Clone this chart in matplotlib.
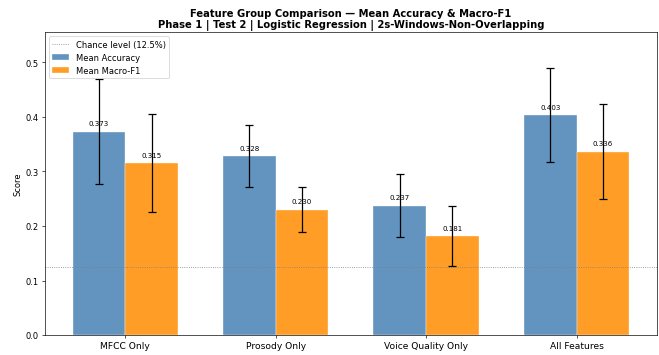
import numpy as np
import matplotlib.pyplot as plt

groups = ['MFCC Only', 'Prosody Only', 'Voice Quality Only', 'All Features']
acc_mean = [0.373, 0.328, 0.237, 0.403]
acc_std = [0.097, 0.057, 0.058, 0.086]
f1_mean = [0.315, 0.230, 0.181, 0.336]
f1_std = [0.090, 0.042, 0.055, 0.087]
chance = 0.125

x = np.arange(len(groups))
width = 0.35

fig, ax = plt.subplots(figsize=(11, 5.94), dpi=659 / 11)

ax.axhline(chance, color='gray', linestyle=':', linewidth=1,
           label='Chance level (12.5%)')
err = {'elinewidth': 1.5, 'capthick': 1.5}
bars_acc = ax.bar(x - width / 2, acc_mean, width, yerr=acc_std, capsize=5,
                  color='steelblue', alpha=0.85, edgecolor='white', linewidth=0.5,
                  label='Mean Accuracy', error_kw=err)
bars_f1 = ax.bar(x + width / 2, f1_mean, width, yerr=f1_std, capsize=5,
                 color='darkorange', alpha=0.85, edgecolor='white', linewidth=0.5,
                 label='Mean Macro-F1', error_kw=err)

for bars in (bars_acc, bars_f1):
    for b in bars:
        h = b.get_height()
        ax.text(b.get_x() + b.get_width() / 2, h + 0.01, f'{h:.3f}',
                ha='center', va='bottom', fontsize=8.5)

ax.set_xticks(x)
ax.set_xticklabels(groups, fontsize=11)
ax.set_ylabel('Score')
ax.set_ylim(0, 0.555)
ax.set_title('Feature Group Comparison \u2014 Mean Accuracy & Macro-F1\n'
             'Phase 1 | Test 2 | Logistic Regression | 2s-Windows-Non-Overlapping',
             fontsize=12, fontweight='bold')
ax.legend(loc='upper left')

plt.subplots_adjust(left=0.068, right=0.997, top=0.907, bottom=0.056)
plt.savefig('out.png')
